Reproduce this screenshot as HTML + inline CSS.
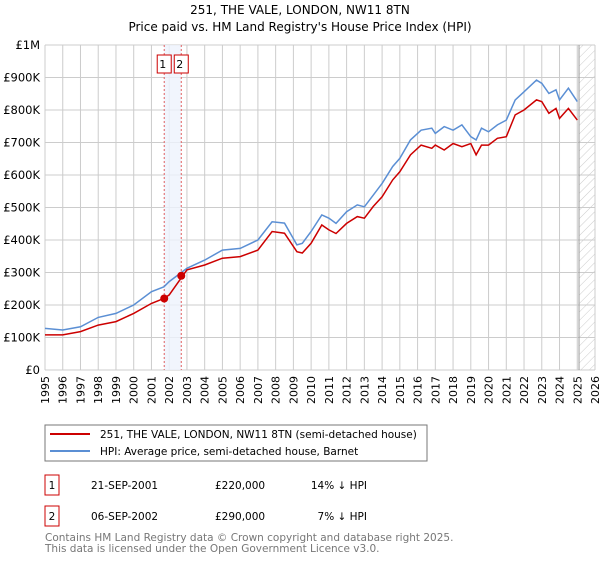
<!DOCTYPE html>
<html><head><meta charset="utf-8"><style>
body{margin:0;background:#fff;font-family:"DejaVu Sans","Liberation Sans",sans-serif;}
svg text{font-family:"DejaVu Sans","Liberation Sans",sans-serif;}
</style></head><body>
<svg id="c" width="600" height="560" xmlns="http://www.w3.org/2000/svg">
<defs><pattern id="hatch" width="6" height="6" patternUnits="userSpaceOnUse" patternTransform="rotate(45)"><line x1="0" y1="0" x2="0" y2="6" stroke="#ccc" stroke-width="1"/></pattern></defs>
<text x="300" y="14" text-anchor="middle" font-size="12">251, THE VALE, LONDON, NW11 8TN</text>
<text x="300" y="31" text-anchor="middle" font-size="12">Price paid vs. HM Land Registry's House Price Index (HPI)</text>
<g id="grid"></g><g id="marks"></g><g id="axes"></g>
<rect x="45" y="425" width="382" height="36" fill="#fff" stroke="#777"/>
<line x1="50" y1="434" x2="90" y2="434" stroke="#cc0000" stroke-width="2"/>
<text x="100" y="438" font-size="10.5">251, THE VALE, LONDON, NW11 8TN (semi-detached house)</text>
<line x1="50" y1="451" x2="90" y2="451" stroke="#5b8fd4" stroke-width="2"/>
<text x="100" y="455" font-size="10.5">HPI: Average price, semi-detached house, Barnet</text>
<g>
<rect x="45" y="475" width="14" height="20" fill="#fff" stroke="#cc0000"/><text x="52" y="489" font-size="10.5" text-anchor="middle">1</text>
<text x="91" y="489" font-size="10.5">21-SEP-2001</text><text x="215" y="489" font-size="10.5">£220,000</text><text x="367" y="489" font-size="10.5" text-anchor="end">14% ↓ HPI</text></g>
<g>
<rect x="45" y="506" width="14" height="20" fill="#fff" stroke="#cc0000"/><text x="52" y="520" font-size="10.5" text-anchor="middle">2</text>
<text x="91" y="520" font-size="10.5">06-SEP-2002</text><text x="215" y="520" font-size="10.5">£290,000</text><text x="367" y="520" font-size="10.5" text-anchor="end">7% ↓ HPI</text></g>
<text x="45" y="541" font-size="10.5" fill="#777">Contains HM Land Registry data © Crown copyright and database right 2025.</text>
<text x="45" y="552" font-size="10.5" fill="#777">This data is licensed under the Open Government Licence v3.0.</text>
</svg>
<script>
const hpiYears=[1995,1996,1997,1998,1999,2000,2001,2001.7,2002,2003,2004,2005,2006,2007,2007.8,2008.5,2009.2,2009.5,2010,2010.6,2011,2011.4,2012,2012.6,2013,2013.5,2014,2014.6,2015,2015.6,2016.2,2016.8,2017,2017.5,2018,2018.5,2019,2019.3,2019.6,2020,2020.5,2021,2021.5,2022,2022.7,2023,2023.4,2023.8,2024,2024.5,2025];
const hpiValues=[128,123,133,162,174,200,241,256,272,313,338,369,374,400,456,452,385,390,426,477,467,451,487,508,502,538,574,626,651,708,738,744,728,749,738,754,718,708,744,733,754,769,831,856,892,882,851,862,831,867,826];
const priceValues=[108,108,118,138,149,174,205,220,231,308,323,344,349,369,426,421,364,360,390,446,431,420,451,472,467,503,533,585,610,662,692,682,692,677,697,687,697,662,692,692,713,718,785,800,831,826,790,805,774,805,769];
const saleDates=[2001.72,2002.68];
const salePrices=[220,290];
const saleLabels=["1","2"];
const yTicks=[0,100,200,300,400,500,600,700,800,900,1000];
const yTickLabels=["£0","£100K","£200K","£300K","£400K","£500K","£600K","£700K","£800K","£900K","£1M"];
const NS="http://www.w3.org/2000/svg";
const X=y=>45+(y-1995)*550/31, Y=v=>370-v*0.325;
function mk(p,t,a){const e=document.createElementNS(NS,t);for(const k in a)e.setAttribute(k,a[k]);p.appendChild(e);return e;}
const grid=document.getElementById('grid'),marks=document.getElementById('marks'),axes=document.getElementById('axes');
for(let yr=1995;yr<=2026;yr++){const l=mk(grid,'line',{x1:X(yr),x2:X(yr),y1:45,y2:370,stroke:'#ccc'});


const t=mk(axes,'text',{x:0,y:0,'font-size':11,transform:`translate(${X(yr)+4},${404}) rotate(-90)`});t.textContent=yr;

}
yTicks.forEach((v,i)=>{const l=mk(grid,'line',{x1:45,x2:595,y1:Y(v),y2:Y(v),stroke:'#ccc'});


const t=mk(axes,'text',{x:40,y:Y(v)+4,'font-size':11.5,'text-anchor':'end'});t.textContent=yTickLabels[i];

});
const h=mk(grid,'rect',{x:X(2025.1),y:45,width:595-X(2025.1),height:325,fill:'url(#hatch)'});


const hl=mk(grid,'line',{x1:X(2025.1),x2:X(2025.1),y1:45,y2:370,stroke:'#999'});


const band=mk(grid,'rect',{x:X(saleDates[0]),y:45,width:X(saleDates[1])-X(saleDates[0]),height:325,fill:'#eef3fc',opacity:0.8});


saleDates.forEach((d,i)=>{const l=mk(marks,'line',{x1:X(d),x2:X(d),y1:45,y2:370,stroke:'#e06060','stroke-dasharray':'2,2'});


const r=mk(marks,'rect',{x:X(d)-7,y:55,width:14,height:18,fill:'#fff',stroke:'#cc0000'});


const t=mk(marks,'text',{x:X(d)-1.5,y:68,'font-size':11,'text-anchor':'middle'});t.textContent=saleLabels[i];

});
function path(vals,col,name){const p=mk(marks,'path',{d:vals.map((v,i)=>(i?'L':'M')+X(hpiYears[i]).toFixed(1)+','+Y(v).toFixed(1)).join(''),fill:'none',stroke:col,'stroke-width':1.5});

}
path(hpiValues,'#5b8fd4','hpi-line');
path(priceValues,'#cc0000','price-line');
saleDates.forEach((d,i)=>{const c=mk(marks,'circle',{cx:X(d),cy:Y(salePrices[i]),r:4,fill:'#cc0000'});

});
</script>
</body></html>
